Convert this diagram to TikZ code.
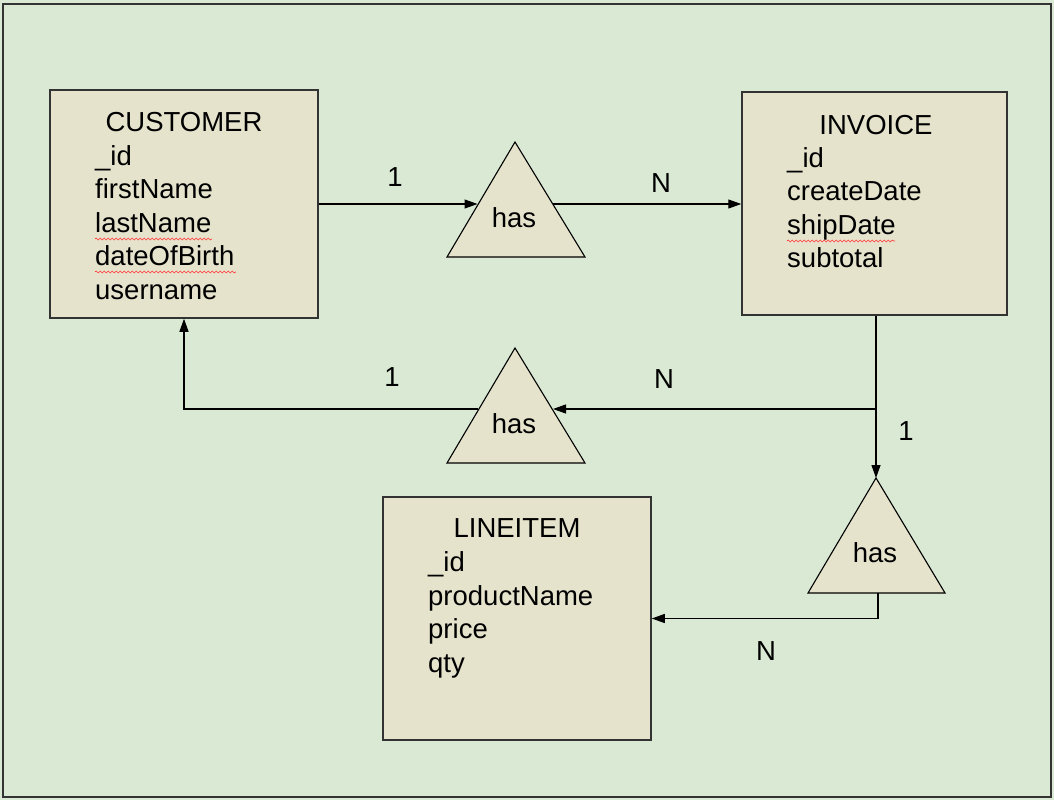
\documentclass[tikz,border=0pt]{standalone}
\usepackage{fontspec}
\setmainfont{Liberation Sans}
\usetikzlibrary{arrows.meta,decorations.pathmorphing}
\definecolor{bgc}{RGB}{217,233,211}
\definecolor{boxc}{RGB}{230,227,204}
\definecolor{edgec}{RGB}{51,51,51}
\tikzset{
  ent/.style={draw=edgec, line width=1.5pt, fill=boxc, inner sep=0pt},
  rel/.style={draw=black, line width=1.1pt, fill=boxc},
  lbl/.style={font=\fontsize{27.5}{33}\selectfont, inner sep=0pt},
  attr/.style={lbl, anchor=base west},
  ttl/.style={lbl, anchor=base},
  conn/.style={draw=black, line width=1.2pt},
  arr/.style={conn, -{Triangle[length=13pt,width=9pt]}},
  squig/.style={draw=red!80, line width=0.6pt, decorate, decoration={snake, segment length=4pt, amplitude=1pt}}
}
\begin{document}
\begin{tikzpicture}[x=1pt,y=-1pt]
\useasboundingbox (0,0) rectangle (1054,800);
\fill[bgc] (0,0) rectangle (1054,800);
\draw[draw=edgec, line width=2pt] (3,4) rectangle (1051,797);

% entity boxes
\node[ent, minimum width=268pt, minimum height=228pt] (cust) at (184,204) {};
\node[ent, minimum width=265pt, minimum height=223pt] (inv) at (874.5,203.5) {};
\node[ent, minimum width=268pt, minimum height=243pt] (li) at (517,618.5) {};

% customer text
\node[ttl] (custT) at (184,131) {CUSTOMER};
\node[attr] (c1) at (95,165) {\_id};
\node[attr] (c2) at (95,198.5) {firstName};
\node[attr] (c3) at (95,232) {lastName};
\node[attr] (c4) at (95,265.5) {dateOfBirth};
\node[attr] (c5) at (95,299) {username};

% invoice text
\node[ttl] (invT) at (876,134) {INVOICE};
\node[attr] (i1) at (787,167) {\_id};
\node[attr] (i2) at (787,200.5) {createDate};
\node[attr] (i3) at (787,234) {shipDate};
\node[attr] (i4) at (787,267.5) {subtotal};

% lineitem text
\node[ttl] (liT) at (517,537) {LINEITEM};
\node[attr] (l1) at (428,571.5) {\_id};
\node[attr] (l2) at (428,605) {productName};
\node[attr] (l3) at (428,638.5) {price};
\node[attr] (l4) at (428,672) {qty};

% spell-check squiggles
\draw[squig] (95,239) -- (212,239);
\draw[squig] (95,272) -- (236,272);
\draw[squig] (787,241) -- (895,241);

% relationship triangles
\draw[rel] (515,142) -- (585,257) -- (447,257) -- cycle;
\draw[rel] (515,348) -- (585,463) -- (447,463) -- cycle;
\draw[rel] (876,478) -- (945,593) -- (808,593) -- cycle;
\node[lbl] (h1) at (514,218) {has};
\node[lbl] (h2) at (514,424) {has};
\node[lbl] (h3) at (875,553) {has};

\coordinate (t1l) at (477.5,204);
\coordinate (t1r) at (553,204);
\coordinate (t2l) at (477.5,409);
\coordinate (t2r) at (553,409);
\coordinate (t3top) at (876,478);
\coordinate (t3b) at (878,593);
\coordinate (j) at (876,409);

% connectors
\draw[arr] (cust.east) -- (t1l);
\draw[arr] (t1r) -- (inv.west |- t1r);
\draw[arr] (inv.south -| t3top) -- (t3top);
\draw[arr] (j) -- (t2r);
\draw[arr] (t2l) -| (cust.south);
\draw[arr] (t3b) |- (li.east);

% cardinality labels
\node[lbl] (n1) at (395,177) {1};
\node[lbl] (n2) at (661,183) {N};
\node[lbl] (n3) at (392,377) {1};
\node[lbl] (n4) at (664,379) {N};
\node[lbl] (n5) at (906,431) {1};
\node[lbl] (n6) at (766,651) {N};
\end{tikzpicture}
\end{document}
